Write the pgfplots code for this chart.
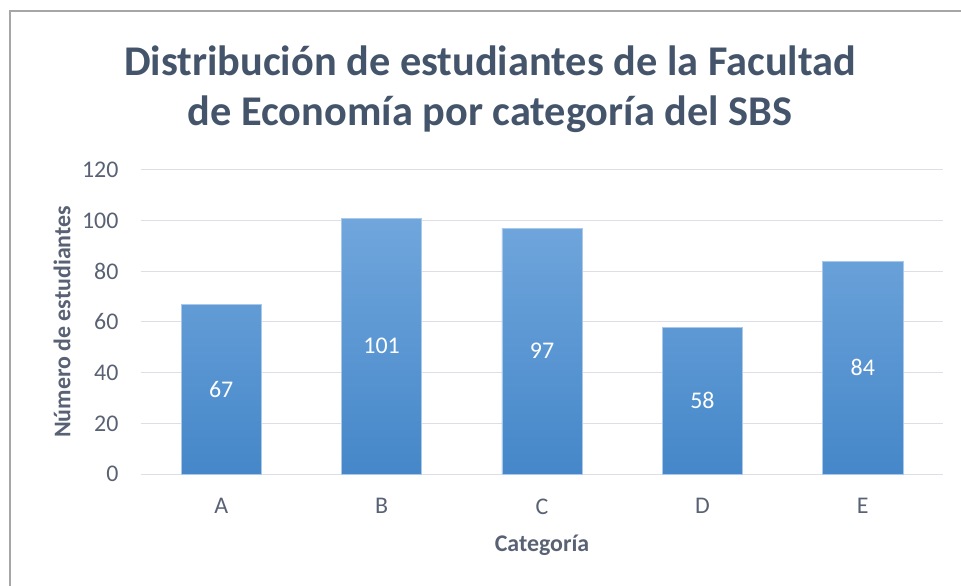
\documentclass[border=0pt]{standalone}
\usepackage{fontspec}
\setmainfont{Carlito}
\usepackage{pgfplots}
\usepackage{pgfplotstable}
\pgfplotsset{compat=1.18}
\definecolor{titlec}{HTML}{44546A}
\definecolor{tickc}{HTML}{596275}
\definecolor{gridc}{HTML}{DCDFE5}
\definecolor{framec}{HTML}{A6A6A6}
\definecolor{barTop}{HTML}{70A6DC}
\definecolor{barBot}{HTML}{4587C9}
\definecolor{barEdge}{HTML}{A9C8EA}
\pgfplotstableread{
x y
0 67
1 101
2 97
3 58
4 84
}\data
\begin{document}
\begin{tikzpicture}
\begin{axis}[
  width=802bp, height=304bp, scale only axis,
  xmin=-0.5, xmax=4.5, ymin=0, ymax=120,
  ytick={0,20,...,120}, xtick={0,1,2,3,4}, xticklabels={A,B,C,D,E},
  axis line style={draw=none}, major tick length=0pt,
  ymajorgrids, grid style={gridc, line width=1bp},
  tick label style={tickc, font=\fontsize{24}{27}\selectfont},
  /pgf/number format/assume math mode=true,
  yticklabel style={xshift=-19bp},
  xticklabel style={yshift=-21bp},
  xlabel={Categoría}, ylabel={Número de estudiantes},
  label style={tickc, font=\fontsize{24}{27}\selectfont\bfseries},
  xlabel style={at={(axis description cs:0.5,-0.2336)}, anchor=center},
  ylabel style={at={(axis description cs:-0.0985,0.5)}, anchor=center},
  clip=false,
]
\addplot[ybar, bar width=0.5, bar shift=0pt, draw=barEdge, line width=0.8bp, top color=barTop, bottom color=barBot] table[x=x,y=y] {\data};
\addplot[only marks, mark=*, mark size=0pt, draw=none, fill=none, nodes near coords, point meta=explicit,
  nodes near coords style={anchor=center, text=white, font=\fontsize{24}{27}\selectfont, /pgf/number format/assume math mode=true}]
  table[x=x, y expr=\thisrow{y}/2, meta=y] {\data};
\coordinate (O) at (axis cs:-0.5,0);
\end{axis}
\pgfresetboundingbox
\path[use as bounding box] ([shift={(-141bp,-112bp)}]O) rectangle ([shift={(820bp,474bp)}]O);
\draw[framec, line width=2bp] ([shift={(-131bp,-114bp)}]O) -- ([shift={(-131bp,463bp)}]O) -- ([shift={(822bp,463bp)}]O);
\node[titlec, font=\fontsize{42.5}{50}\selectfont\bfseries, anchor=base] at ([shift={(349bp,398bp)}]O) {Distribución de estudiantes de la Facultad};
\node[titlec, font=\fontsize{42.5}{50}\selectfont\bfseries, anchor=base] at ([shift={(349bp,348bp)}]O) {de Economía por categoría del SBS};
\end{tikzpicture}
\end{document}
